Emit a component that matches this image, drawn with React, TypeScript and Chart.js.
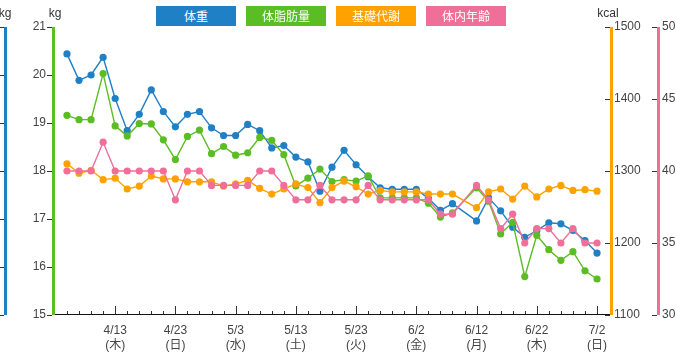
import { useEffect, useRef } from 'react';
import { Chart, registerables } from 'chart.js';

Chart.register(...registerables);

const DATES = [
  '4/5', '4/7', '4/9', '4/11', '4/13', '4/15', '4/17', '4/19', '4/21', '4/23',
  '4/25', '4/27', '4/29', '5/1', '5/3', '5/5', '5/7', '5/9', '5/11', '5/13',
  '5/15', '5/17', '5/19', '5/21', '5/23', '5/25', '5/27', '5/29', '5/31', '6/2',
  '6/4', '6/6', '6/8', '6/10', '6/12', '6/14', '6/16', '6/18', '6/20', '6/22',
  '6/24', '6/26', '6/28', '6/30', '7/2',
];
const WEEKDAYS = [
  '水', '金', '日', '火', '木', '土', '月', '水', '金', '日',
  '火', '木', '土', '月', '水', '金', '日', '火', '木', '土',
  '月', '水', '金', '日', '火', '木', '土', '月', '水', '金',
  '日', '火', '木', '土', '月', '水', '金', '日', '火', '木',
  '土', '月', '水', '金', '日',
];
const LABELED_DATES = ['4/13', '4/23', '5/3', '5/13', '5/23', '6/2', '6/12', '6/22', '7/2'];

const WEIGHT = [
  20.44, 19.89, 20.0, 20.37, 19.51, 18.84, 19.18, 19.69, 19.24, 18.92,
  19.18, 19.24, 18.9, 18.74, 18.74, 18.97, 18.84, 18.48, 18.53, 18.29,
  18.19, 17.58, 18.08, 18.43, 18.13, 17.88, 17.65, 17.62, 17.62, 17.62,
  17.43, 17.18, 17.32, null, 16.96, 17.44, 17.17, 16.83, 16.62, 16.76,
  16.92, 16.9, 16.76, 16.55, 16.29,
];
const FAT_MASS = [
  19.16, 19.07, 19.07, 20.03, 18.94, 18.73, 18.99, 18.98, 18.65, 18.24,
  18.72, 18.85, 18.36, 18.51, 18.33, 18.38, 18.7, 18.64, 18.34, 17.69,
  17.85, 18.04, 17.78, 17.82, 17.79, 17.9, 17.44, 17.44, 17.44, 17.44,
  17.33, 17.04, 17.13, null, 17.65, 17.37, 16.69, 16.93, 15.8, 16.66,
  16.36, 16.14, 16.32, 15.92, 15.75,
];
const BASAL_METABOLISM = [
  1310, 1297, 1301, 1288, 1290, 1275, 1279, 1293, 1289, 1289,
  1285, 1285, 1285, 1279, 1282, 1287, 1276, 1268, 1275, 1282,
  1277, 1256, 1277, 1286, 1278, 1268, 1273, 1271, 1271, 1271,
  1268, 1268, 1268, null, 1249, 1271, 1275, 1261, 1279, 1264,
  1275, 1280, 1273, 1274, 1272,
];
const BODY_AGE = [
  40, 40, 40, 42, 40, 40, 40, 40, 40, 38,
  40, 40, 39, 39, 39, 39, 40, 40, 39, 38,
  38, 39, 38, 38, 38, 39, 38, 38, 38, 38,
  38, 37, 37, null, 39, 38, 36, 37, 35, 36,
  36, 35, 36, 35, 35,
];

const SERIES_LABELS = ['体重', '体脂肪量', '基礎代謝', '体内年齢'];
const COLORS = ['#1F80C6', '#5BBD24', '#FFA200', '#EF6F98'];

const KG_RANGE = [15, 21];
const KCAL_RANGE = [1100, 1500];
const AGE_RANGE = [30, 50];
const AXIS_TITLES = { weight: 'kg', fat: 'kg', kcal: 'kcal' };

const FONT = "'Liberation Sans', Arial, 'Noto Sans CJK JP', sans-serif";
const X_PAD = 1.16;

export default function App() {
  const ref = useRef<HTMLCanvasElement>(null);

  useEffect(() => {
    const canvas = ref.current;
    if (!canvas) return;

    const toXY = (arr: (number | null)[]) => arr.map((v, i) => ({ x: i, y: v }));

    const common = {
      borderWidth: 1.4,
      pointRadius: 3.6,
      pointHoverRadius: 3.6,
      pointBorderWidth: 0,
      tension: 0,
      spanGaps: true,
      fill: false,
    };

    const axisDeco = {
      id: 'axisDeco',
      afterDraw(chart: any) {
        const { ctx, chartArea, scales } = chart;
        const { top, bottom, left, right } = chartArea;
        ctx.save();
        ctx.fillStyle = '#333';
        const xs = scales.x;
        xs.ticks.forEach((t: any) => {
          const px = Math.round(xs.getPixelForValue(t.value));
          const len = LABELED_DATES.includes(DATES[t.value]) ? 9 : 4;
          ctx.fillRect(px, bottom - len, 1, len);
        });
        ctx.fillStyle = '#111';
        ctx.fillRect(left, bottom - 1, right - left, 1);

        const axes = [
          { s: scales.yW, x: scales.yW.right, color: COLORS[0] },
          { s: scales.yF, x: scales.yF.right, color: COLORS[1] },
          { s: scales.yB, x: scales.yB.left, color: COLORS[2] },
          { s: scales.yA, x: scales.yA.left, color: COLORS[3] },
        ];
        axes.forEach(({ s, x, color }) => {
          ctx.fillStyle = '#333';
          s.ticks.forEach((t: any) => {
            const py = Math.round(s.getPixelForValue(t.value));
            ctx.fillRect(x - 6, py, 5, 1);
          });
          ctx.fillStyle = color;
          ctx.fillRect(x - 1, top, 3, bottom - top);
        });

        ctx.fillStyle = '#333';
        ctx.font = `12px ${FONT}`;
        ctx.textAlign = 'center';
        ctx.textBaseline = 'alphabetic';
        ctx.fillText(AXIS_TITLES.weight, scales.yW.right, 17);
        ctx.fillText(AXIS_TITLES.fat, scales.yF.right + 2, 17);
        ctx.fillText(AXIS_TITLES.kcal, scales.yB.left - 3, 17);
        ctx.restore();
      },
    };

    const tickFont = { family: FONT, size: 12 };
    const plain = (v: any) => String(v);

    const chart = new Chart(canvas, {
      type: 'line',
      data: {
        datasets: [
          { ...common, label: SERIES_LABELS[0], data: toXY(WEIGHT), yAxisID: 'yW', borderColor: COLORS[0], backgroundColor: COLORS[0], order: 3 },
          { ...common, label: SERIES_LABELS[1], data: toXY(FAT_MASS), yAxisID: 'yF', borderColor: COLORS[1], backgroundColor: COLORS[1], order: 2 },
          { ...common, label: SERIES_LABELS[2], data: toXY(BASAL_METABOLISM), yAxisID: 'yB', borderColor: COLORS[2], backgroundColor: COLORS[2], order: 1 },
          { ...common, label: SERIES_LABELS[3], data: toXY(BODY_AGE), yAxisID: 'yA', borderColor: COLORS[3], backgroundColor: COLORS[3], order: 0 },
        ] as any,
      },
      options: {
        animation: false,
        responsive: false,
        maintainAspectRatio: false,
        devicePixelRatio: 1,
        layout: { padding: { top: 27, left: 0, right: 0, bottom: 0 } },
        plugins: {
          legend: { display: false },
          tooltip: { enabled: false },
          title: { display: false },
        },
        events: [],
        scales: {
          x: {
            type: 'linear',
            position: 'bottom',
            min: -X_PAD,
            max: DATES.length - 1 + X_PAD,
            grid: { display: false, drawTicks: false },
            border: { display: false },
            afterBuildTicks: (s: any) => {
              s.ticks = DATES.map((_, i) => ({ value: i }));
            },
            afterFit: (s: any) => {
              s.height = 39;
            },
            ticks: {
              autoSkip: false,
              maxRotation: 0,
              minRotation: 0,
              padding: 8,
              color: '#444',
              font: { ...tickFont, lineHeight: 1.25 },
              callback: (v: any) => {
                const d = DATES[v];
                return LABELED_DATES.includes(d) ? [d, `(${WEEKDAYS[v]})`] : '';
              },
            },
          },
          yW: {
            type: 'linear',
            position: 'left',
            weight: 1,
            min: KG_RANGE[0],
            max: KG_RANGE[1],
            grid: { display: false, drawTicks: false },
            border: { display: false },
            ticks: { display: false, stepSize: 1 },
            afterFit: (s: any) => {
              s.width = 5;
            },
          },
          yF: {
            type: 'linear',
            position: 'left',
            weight: 0,
            min: KG_RANGE[0],
            max: KG_RANGE[1],
            grid: { display: false, drawTicks: false },
            border: { display: false },
            ticks: { stepSize: 1, padding: 7, color: '#444', font: tickFont, callback: plain },
            afterFit: (s: any) => {
              s.width = 48;
            },
          },
          yB: {
            type: 'linear',
            position: 'right',
            weight: 0,
            min: KCAL_RANGE[0],
            max: KCAL_RANGE[1],
            grid: { display: false, drawTicks: false },
            border: { display: false },
            ticks: { stepSize: 100, padding: 3, color: '#444', font: tickFont, callback: plain },
            afterFit: (s: any) => {
              s.width = 47;
            },
          },
          yA: {
            type: 'linear',
            position: 'right',
            weight: 1,
            min: AGE_RANGE[0],
            max: AGE_RANGE[1],
            grid: { display: false, drawTicks: false },
            border: { display: false },
            ticks: { stepSize: 5, padding: 4, color: '#444', font: tickFont, callback: plain },
            afterFit: (s: any) => {
              s.width = 18;
            },
          },
        },
      } as any,
      plugins: [axisDeco],
    });

    return () => chart.destroy();
  }, []);

  return (
    <div style={{ position: 'fixed', left: 0, top: 0, width: 676, height: 354, background: '#fff' }}>
      <canvas ref={ref} width={676} height={354} style={{ display: 'block', width: 676, height: 354 }} />
      {SERIES_LABELS.map((label, i) => (
        <div
          key={label}
          style={{
            position: 'absolute',
            top: 6,
            left: 156 + i * 90,
            width: 80,
            height: 20,
            lineHeight: '20px',
            background: COLORS[i],
            color: '#fff',
            textAlign: 'center',
            fontFamily: "'Noto Sans CJK JP', sans-serif",
            fontSize: 12,
          }}
        >
          {label}
        </div>
      ))}
    </div>
  );
}
